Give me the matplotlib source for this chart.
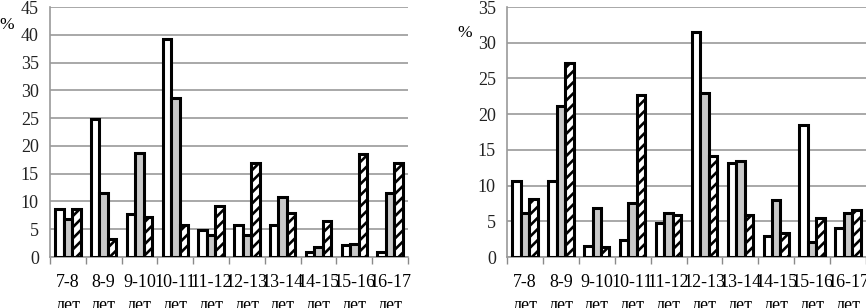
import matplotlib
matplotlib.use("Agg")
import matplotlib.pyplot as plt
import numpy as np

plt.rcParams['font.family'] = ['Liberation Serif', 'DejaVu Serif']
plt.rcParams['hatch.linewidth'] = 1.9

categories = ["7-8", "8-9", "9-10", "10-11", "11-12", "12-13", "13-14", "14-15", "15-16", "16-17"]
tick_labels = [c + "\nлет" for c in categories]

left_white = [8.7, 24.8, 7.8, 39.3, 4.8, 5.7, 5.7, 0.9, 2.1, 0.9]
left_gray = [6.9, 11.5, 18.8, 28.7, 3.9, 3.9, 10.8, 1.8, 2.4, 11.5]
left_hatch = [8.6, 3.3, 7.2, 5.7, 9.2, 17.0, 8.0, 6.5, 18.6, 17.0]

right_white = [10.7, 10.7, 1.5, 2.4, 4.7, 31.5, 13.2, 3.0, 18.5, 4.0]
right_gray = [6.1, 21.1, 6.8, 7.5, 6.1, 23.0, 13.5, 8.0, 2.1, 6.1]
right_hatch = [8.1, 27.2, 1.4, 22.7, 5.9, 14.1, 5.9, 3.4, 5.4, 6.6]

W, H = 866, 308
fig = plt.figure(figsize=(W / 100, H / 100), dpi=100)


def panel(rect, white, gray, hatch, ymax, pct_xy):
    ax = fig.add_axes(rect)
    x = np.arange(len(categories))
    bw = 0.235
    ax.bar(x - bw, white, bw, color='white', edgecolor='black', linewidth=2.2, zorder=3)
    ax.bar(x, gray, bw, color='#c8c8c8', edgecolor='black', linewidth=2.2, zorder=3)
    ax.bar(x + bw, hatch, bw, color='white', edgecolor='black', linewidth=2.2,
           hatch='///', zorder=3)
    ax.set_xlim(-0.5, len(categories) - 0.5)
    ax.set_ylim(0, ymax)
    ax.set_yticks(np.arange(0, ymax + 1, 5))
    ax.yaxis.grid(True, color='#9a9a9a', linewidth=1.2, zorder=0)
    ax.set_axisbelow(True)
    ax.set_xticks(x)
    ax.set_xticklabels(tick_labels, fontsize=13, linespacing=1.45)
    ax.set_xticks(np.arange(-0.5, len(categories), 1), minor=True)
    ax.tick_params(axis='x', which='major', length=0, pad=12)
    ax.tick_params(axis='x', which='minor', length=5, color='#8a8a8a', width=1)
    ax.tick_params(axis='y', length=0, labelsize=13, pad=8, labelcolor='#222222')
    for s in ['top', 'right']:
        ax.spines[s].set_visible(False)
    for s in ['left', 'bottom']:
        ax.spines[s].set_color('#9a9a9a')
        ax.spines[s].set_linewidth(1.2)
    fig.text(pct_xy[0] / W, 1 - pct_xy[1] / H, '%', fontsize=12.5, ha='center', va='center')
    return ax


panel([50 / W, 51 / H, 358 / W, 250 / H], left_white, left_gray, left_hatch, 45, (7, 25))
panel([507 / W, 51 / H, 359 / W, 250 / H], right_white, right_gray, right_hatch, 35, (465, 33))

fig.savefig("out.png", dpi=100)
